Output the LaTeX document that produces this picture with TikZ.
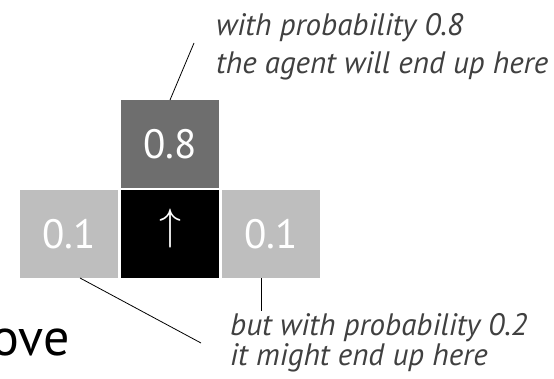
\documentclass[tikz,border=0pt]{standalone}
\usepackage{fontspec}
\setmainfont{PT Sans}
\usetikzlibrary{positioning}
\definecolor{midgray}{HTML}{6E6E6E}
\definecolor{sidegray}{HTML}{BEBEBE}
\definecolor{notegray}{HTML}{404040}
\tikzset{cell/.style = {minimum width=98pt, minimum height=88pt,
                        inner sep=0, outer sep=0, text=white,
                        font=\fontsize{41}{41}\selectfont}}
\tikzset{glyph/.style = {inner sep=0, text=white, font=\normalsize}}
\tikzset{note/.style = {align=left, inner sep=0, text=notegray,
                        font=\itshape\fontsize{31}{38}\selectfont}}
\tikzset{lead/.style = {black, line width=0.8pt}}

\begin{document}
\begin{tikzpicture}[x=1pt, y=-1pt]
      \useasboundingbox (0,0) rectangle (554,379);

      \node [cell, fill=black] (ctr) at (170,234) {};
      \node [cell, fill=midgray, above=2pt of ctr] (up) {0.8};
      \node [cell, fill=sidegray, left=3pt of ctr] (lft) {0.1};
      \node [cell, fill=sidegray, right=3pt of ctr] (rgt) {0.1};
      \node [glyph] (arw) at ([yshift=5.5pt]ctr.center) {\scalebox{4.4}{$\uparrow$}};

      \node [anchor=base east, inner sep=0, font=\fontsize{52}{52}\selectfont] (word) at (70,355) {ove};

      \node [note, anchor=north west] (topnote) at (216,13) {with probability 0.8\\the agent will end up here};
      \node [note, anchor=north west, font=\itshape\fontsize{31}{30}\selectfont] (botnote) at (230,313) {but with probability 0.2\\it might end up here};

      \coordinate (topend) at (194,43);
      \coordinate (lftend) at (201,343);
      \coordinate (rgtend) at (261,311);
      \draw [lead] (up.north) -- (topend);
      \draw [lead] ([xshift=11pt]lft.south) -- (lftend);
      \draw [lead] ([xshift=-10pt]rgt.south) -- (rgtend);
    \end{tikzpicture}
\end{document}
